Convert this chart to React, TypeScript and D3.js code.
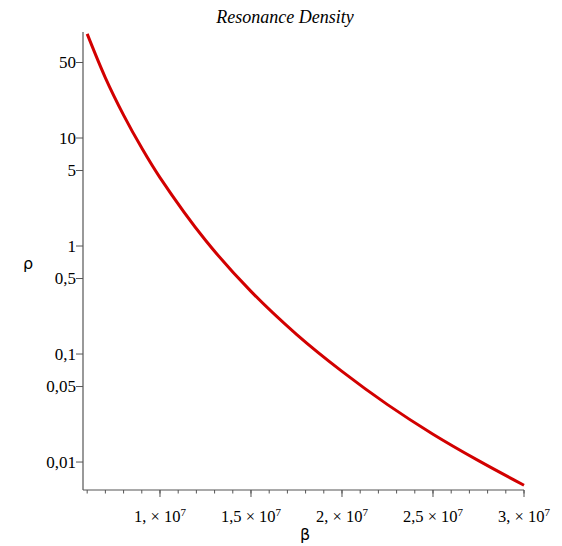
import React from "react";
import * as d3 from "d3";

const betaValues = [0.6e7, 0.7e7, 0.8e7, 0.9e7, 1.0e7, 1.25e7, 1.5e7, 1.75e7, 2.0e7, 2.25e7, 2.5e7, 2.75e7, 3.0e7];
const rhoValues = [92, 36.1, 16.3, 8.07, 4.3, 1.13, 0.38, 0.152, 0.069, 0.034, 0.0181, 0.0103, 0.0061];

const yTickValues = [50, 10, 5, 1, 0.5, 0.1, 0.05, 0.01];
const yTickLabels = ["50", "10", "5", "1", "0,5", "0,1", "0,05", "0,01"];
const xMajorValues = [1e7, 1.5e7, 2e7, 2.5e7, 3e7];
const xMajorLabels = ["1,", "1,5", "2,", "2,5", "3,"];

const W = 562;
const H = 546;
const left = 83;
const right = 524;
const top = 32;
const bottom = 490;

export default function App() {
  const x = d3.scaleLinear().domain([0.577e7, 3e7]).range([left, right]);
  const y = d3.scaleLog().domain([0.00551, 95.8]).range([bottom, top]);

  const data = betaValues.map((b, i) => [b, rhoValues[i]] as [number, number]);
  const line = d3
    .line<[number, number]>()
    .x((d) => x(d[0]))
    .y((d) => y(d[1]))
    .curve(d3.curveCatmullRom.alpha(0.5));

  const minor: number[] = [];
  for (let v = 0.6e7; v <= 3.0001e7; v += 0.1e7) minor.push(Math.round(v / 1e5) * 1e5);

  const font = "'Liberation Serif', 'Times New Roman', serif";

  return (
    <svg
      width={W}
      height={H}
      style={{ position: "absolute", left: 0, top: 0, background: "#fff" }}
    >
      <text
        x={285}
        y={23}
        textAnchor="middle"
        fontFamily={font}
        fontStyle="italic"
        fontSize={18}
        fill="#000"
      >
        Resonance Density
      </text>

      <line x1={left} x2={left} y1={top} y2={bottom} stroke="#555" strokeWidth={1.2} />
      <line x1={left} x2={right} y1={bottom} y2={bottom} stroke="#555" strokeWidth={1.2} />

      {yTickValues.map((v, i) => (
        <g key={"y" + i}>
          <line x1={left - 7} x2={left} y1={y(v)} y2={y(v)} stroke="#555" strokeWidth={1} />
          <text
            x={left - 7}
            y={y(v) + 5.5}
            textAnchor="end"
            fontFamily={font}
            fontSize={17}
            fill="#000"
          >
            {yTickLabels[i]}
          </text>
        </g>
      ))}

      {minor.map((v, i) => (
        <line
          key={"m" + i}
          x1={x(v)}
          x2={x(v)}
          y1={bottom}
          y2={bottom + 3.5}
          stroke="#555"
          strokeWidth={1}
        />
      ))}
      {xMajorValues.map((v, i) => (
        <g key={"x" + i}>
          <line x1={x(v)} x2={x(v)} y1={bottom} y2={bottom + 7} stroke="#555" strokeWidth={1} />
          <text
            x={x(v)}
            y={522}
            textAnchor="middle"
            fontFamily={font}
            fontSize={16.5}
            fill="#000"
          >
            {xMajorLabels[i]} × 10
            <tspan dy={-6} fontSize={11}>7</tspan>
          </text>
        </g>
      ))}

      <text x={305} y={540} textAnchor="middle" fontFamily="'DejaVu Sans', sans-serif" fontSize={16} fill="#000">
        β
      </text>
      <text x={28} y={269} textAnchor="middle" fontFamily="'DejaVu Sans', sans-serif" fontSize={16} fill="#000">
        ρ
      </text>

      <path d={line(data) || ""} fill="none" stroke="#d20000" strokeWidth={3} />
    </svg>
  );
}
